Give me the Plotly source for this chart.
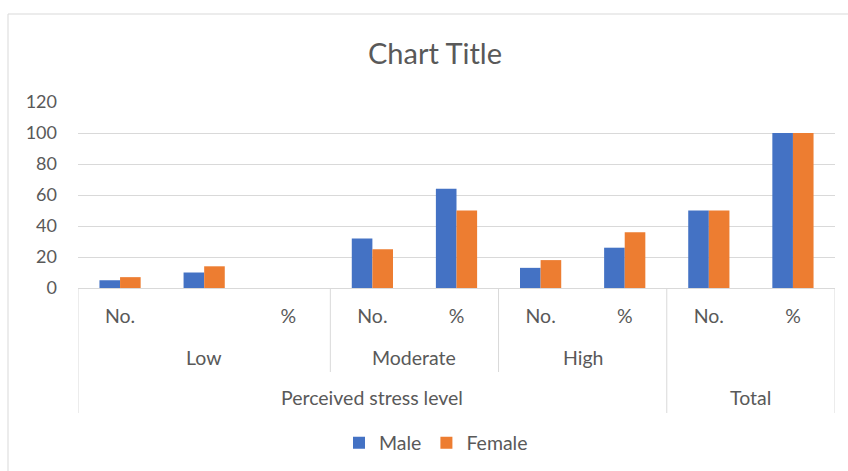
import plotly.graph_objects as go

# ---- data ----
sub_labels = ["No.", "", "%", "No.", "%", "No.", "%", "No.", "%"]
group_labels = ["Low", "Moderate", "High", "Total"]
group_sizes = [3, 2, 2, 2]
top_labels = ["Perceived stress level", "Total"]
top_sizes = [7, 2]
male = [5, 10, None, 32, 64, 13, 26, 50, 100]
female = [7, 14, None, 25, 50, 18, 36, 50, 100]
series_names = ["Male", "Female"]

FONT = "Lato"
TXT = "#595959"
GRID = "#D9D9D9"
LS = 19.5

xs = list(range(len(sub_labels)))
fig = go.Figure()
fig.add_trace(go.Bar(x=xs, y=male, name=series_names[0], marker_color="#4472C4",
                     marker_line_width=0))
fig.add_trace(go.Bar(x=xs, y=female, name=series_names[1], marker_color="#ED7D31",
                     marker_line_width=0))

shapes = []
annotations = []

# group row
start = 0
for lab, n in zip(group_labels, group_sizes):
    if lab != "Total":
        annotations.append(dict(x=start + (n - 1) / 2, y=0, xref="x", yref="paper",
                                yanchor="middle", yshift=-69, text=lab, showarrow=False,
                                font=dict(family=FONT, size=LS, color=TXT)))
    start += n
# inner separators between level-2 groups (within first top group)
start = 0
for n in group_sizes[:-2]:
    start += n
    shapes.append(dict(type="line", xref="x", yref="paper", x0=start - 0.5, x1=start - 0.5,
                       y0=0, y1=-84 / 186, line=dict(color=GRID, width=1)))
# top row
start = 0
bounds = [-0.5]
for lab, n in zip(top_labels, top_sizes):
    annotations.append(dict(x=start + (n - 1) / 2, y=0, xref="x", yref="paper",
                            yanchor="middle", yshift=-109, text=lab, showarrow=False,
                            font=dict(family=FONT, size=LS, color=TXT)))
    start += n
    bounds.append(start - 0.5)
for b in bounds:
    shapes.append(dict(type="line", xref="x", yref="paper", x0=b, x1=b,
                       y0=0, y1=-125 / 186, line=dict(color=GRID, width=1)))

# outer chart frame
shapes.append(dict(type="rect", xref="paper", yref="paper",
                   x0=(8 - 78) / 757, x1=(855 - 78) / 757,
                   y0=(288 - 480) / 186, y1=(288 - 14) / 186,
                   line=dict(color="#D9D9D9", width=1), layer="below"))

fig.update_layout(
    width=848, height=471,
    margin=dict(l=78, r=13, t=102, b=183),
    paper_bgcolor="white", plot_bgcolor="white",
    title=dict(text="Chart Title", x=435 / 848, xanchor="center", y=1 - 54 / 471,
               yanchor="middle", font=dict(family=FONT, size=29, color=TXT)),
    barmode="group", bargap=0.51, bargroupgap=0,
    font=dict(family=FONT, size=LS, color=TXT),
    xaxis=dict(range=[-0.5, 8.5], tickvals=xs, ticktext=sub_labels, showgrid=False,
               showline=True, linecolor=GRID, linewidth=1, ticks="", zeroline=False,
               ticklabelstandoff=11, tickfont=dict(family=FONT, size=LS, color=TXT),
               fixedrange=True),
    yaxis=dict(range=[0, 120], dtick=20, showgrid=True, gridcolor=GRID, gridwidth=1,
               zeroline=False, showline=False, ticks="", ticklabelstandoff=20,
               tickfont=dict(family=FONT, size=18, color=TXT)),
    legend=dict(orientation="h", xref="container", yref="container", x=436 / 848,
                xanchor="center", y=1 - 443 / 471, yanchor="middle",
                font=dict(family=FONT, size=LS, color=TXT), itemwidth=30,
                traceorder="normal"),
    shapes=shapes, annotations=annotations,
)
fig.write_html("out.html")
